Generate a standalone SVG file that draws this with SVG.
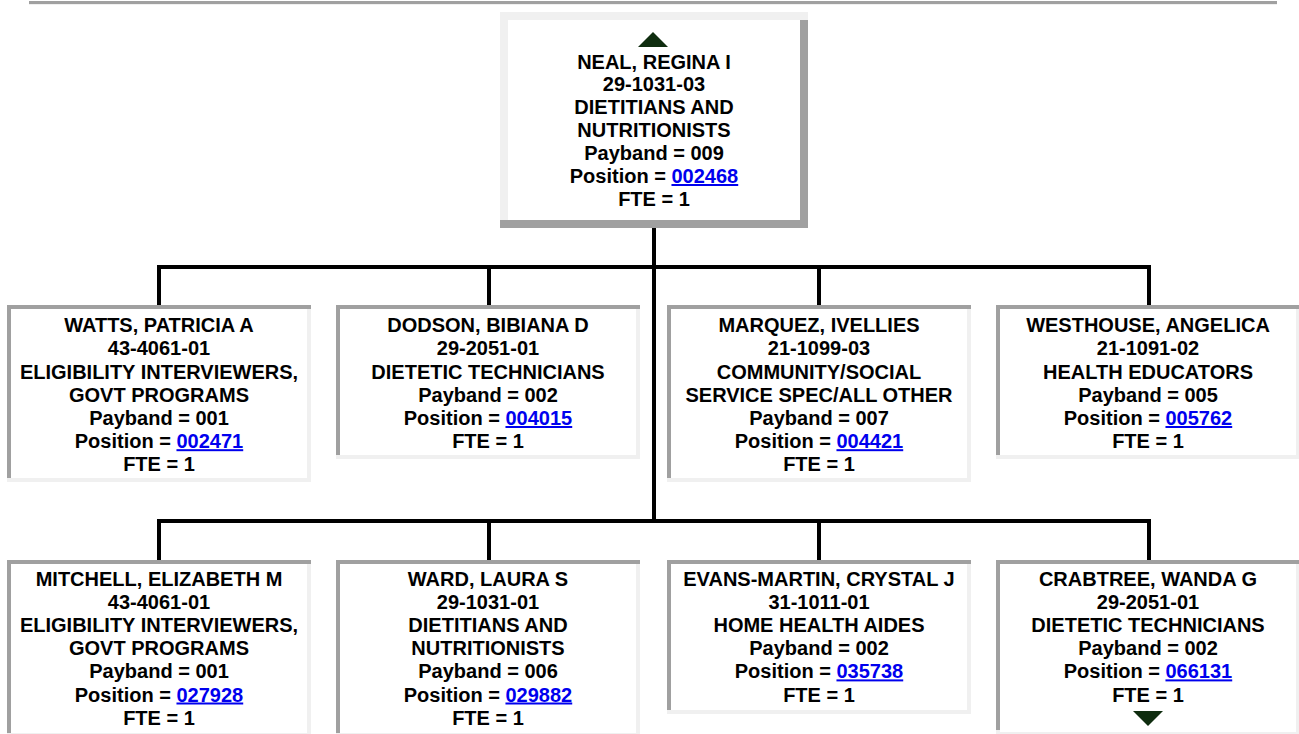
<svg xmlns="http://www.w3.org/2000/svg" width="1299" height="734" viewBox="0 0 1299 734">
<style>
.t{font-family:"Liberation Sans",Arial,sans-serif;font-size:20px;font-weight:bold;fill:#000;text-anchor:middle}
.lnk{fill:#0000ee;text-decoration:underline}
.lt{fill:#f0f0f0}
.dk{fill:#a0a0a0}
.wh{fill:#fff}
.tri{fill:#0f2d0f}
.cn{stroke:#000;stroke-width:4;fill:none}
</style>
<rect x="0" y="0" width="1299" height="734" fill="#fff"/>
<rect x="29" y="1" width="1248" height="3" class="dk"/>
<rect x="29" y="4" width="1248" height="1" class="lt"/>

<g id="connectors">
<path class="cn" d="M654,228 V523"/>
<path class="cn" d="M157,267 H1151"/>
<path class="cn" d="M159,267 V305 M489,267 V305 M819,267 V305 M1149,267 V305"/>
<path class="cn" d="M157,521 H1151"/>
<path class="cn" d="M159,521 V560 M489,521 V560 M819,521 V560 M1149,521 V560"/>
</g>

<g id="node-neal">
<rect x="500" y="12" width="308" height="216" class="lt"/>
<rect x="800" y="20" width="8" height="208" class="dk"/>
<rect x="500" y="220" width="308" height="8" class="dk"/>
<rect x="508" y="20" width="292" height="200" class="wh"/>
<polygon class="tri" points="638,47 653,32 668,47"/>
<text class="t" x="654" y="68.5">NEAL, REGINA I</text>
<text class="t" x="654" y="91.4">29-1031-03</text>
<text class="t" x="654" y="114.3">DIETITIANS AND</text>
<text class="t" x="654" y="137.2">NUTRITIONISTS</text>
<text class="t" x="654" y="160.1">Payband = 009</text>
<text class="t" x="654" y="183">Position = <tspan class="lnk">002468</tspan></text>
<text class="t" x="654" y="205.9">FTE = 1</text>
</g>

<g id="node-watts">
<rect x="7" y="305" width="304" height="177" class="lt"/>
<rect x="7" y="305" width="304" height="4" class="dk"/>
<rect x="7" y="305" width="4" height="173" class="dk"/>
<rect x="11" y="309" width="296" height="169" class="wh"/>
<text class="t" x="159" y="332.2">WATTS, PATRICIA A</text>
<text class="t" x="159" y="355.4">43-4061-01</text>
<text class="t" x="159" y="378.6">ELIGIBILITY INTERVIEWERS,</text>
<text class="t" x="159" y="401.8">GOVT PROGRAMS</text>
<text class="t" x="159" y="425">Payband = 001</text>
<text class="t" x="159" y="448.2">Position = <tspan class="lnk">002471</tspan></text>
<text class="t" x="159" y="471.4">FTE = 1</text>
</g>

<g id="node-dodson">
<rect x="336" y="305" width="304" height="154" class="lt"/>
<rect x="336" y="305" width="304" height="4" class="dk"/>
<rect x="336" y="305" width="4" height="150" class="dk"/>
<rect x="340" y="309" width="296" height="146" class="wh"/>
<text class="t" x="488" y="332.2">DODSON, BIBIANA D</text>
<text class="t" x="488" y="355.4">29-2051-01</text>
<text class="t" x="488" y="378.6">DIETETIC TECHNICIANS</text>
<text class="t" x="488" y="401.8">Payband = 002</text>
<text class="t" x="488" y="425">Position = <tspan class="lnk">004015</tspan></text>
<text class="t" x="488" y="448.2">FTE = 1</text>
</g>

<g id="node-marquez">
<rect x="667" y="305" width="304" height="177" class="lt"/>
<rect x="667" y="305" width="304" height="4" class="dk"/>
<rect x="667" y="305" width="4" height="173" class="dk"/>
<rect x="671" y="309" width="296" height="169" class="wh"/>
<text class="t" x="819" y="332.2">MARQUEZ, IVELLIES</text>
<text class="t" x="819" y="355.4">21-1099-03</text>
<text class="t" x="819" y="378.6">COMMUNITY/SOCIAL</text>
<text class="t" x="819" y="401.8">SERVICE SPEC/ALL OTHER</text>
<text class="t" x="819" y="425">Payband = 007</text>
<text class="t" x="819" y="448.2">Position = <tspan class="lnk">004421</tspan></text>
<text class="t" x="819" y="471.4">FTE = 1</text>
</g>

<g id="node-westhouse">
<rect x="996" y="305" width="303" height="154" class="lt"/>
<rect x="996" y="305" width="303" height="4" class="dk"/>
<rect x="996" y="305" width="4" height="150" class="dk"/>
<rect x="1000" y="309" width="296" height="146" class="wh"/>
<text class="t" x="1148" y="332.2">WESTHOUSE, ANGELICA</text>
<text class="t" x="1148" y="355.4">21-1091-02</text>
<text class="t" x="1148" y="378.6">HEALTH EDUCATORS</text>
<text class="t" x="1148" y="401.8">Payband = 005</text>
<text class="t" x="1148" y="425">Position = <tspan class="lnk">005762</tspan></text>
<text class="t" x="1148" y="448.2">FTE = 1</text>
</g>

<g id="node-mitchell">
<rect x="7" y="560" width="304" height="177" class="lt"/>
<rect x="7" y="560" width="304" height="4" class="dk"/>
<rect x="7" y="560" width="4" height="173" class="dk"/>
<rect x="11" y="564" width="296" height="169" class="wh"/>
<text class="t" x="159" y="586">MITCHELL, ELIZABETH M</text>
<text class="t" x="159" y="609.1">43-4061-01</text>
<text class="t" x="159" y="632.2">ELIGIBILITY INTERVIEWERS,</text>
<text class="t" x="159" y="655.3">GOVT PROGRAMS</text>
<text class="t" x="159" y="678.4">Payband = 001</text>
<text class="t" x="159" y="701.5">Position = <tspan class="lnk">027928</tspan></text>
<text class="t" x="159" y="724.6">FTE = 1</text>
</g>

<g id="node-ward">
<rect x="336" y="560" width="304" height="177" class="lt"/>
<rect x="336" y="560" width="304" height="4" class="dk"/>
<rect x="336" y="560" width="4" height="173" class="dk"/>
<rect x="340" y="564" width="296" height="169" class="wh"/>
<text class="t" x="488" y="586">WARD, LAURA S</text>
<text class="t" x="488" y="609.1">29-1031-01</text>
<text class="t" x="488" y="632.2">DIETITIANS AND</text>
<text class="t" x="488" y="655.3">NUTRITIONISTS</text>
<text class="t" x="488" y="678.4">Payband = 006</text>
<text class="t" x="488" y="701.5">Position = <tspan class="lnk">029882</tspan></text>
<text class="t" x="488" y="724.6">FTE = 1</text>
</g>

<g id="node-evans-martin">
<rect x="667" y="560" width="304" height="154" class="lt"/>
<rect x="667" y="560" width="304" height="4" class="dk"/>
<rect x="667" y="560" width="4" height="150" class="dk"/>
<rect x="671" y="564" width="296" height="146" class="wh"/>
<text class="t" x="819" y="586">EVANS-MARTIN, CRYSTAL J</text>
<text class="t" x="819" y="609.1">31-1011-01</text>
<text class="t" x="819" y="632.2">HOME HEALTH AIDES</text>
<text class="t" x="819" y="655.3">Payband = 002</text>
<text class="t" x="819" y="678.4">Position = <tspan class="lnk">035738</tspan></text>
<text class="t" x="819" y="701.5">FTE = 1</text>
</g>

<g id="node-crabtree">
<rect x="996" y="560" width="303" height="174" class="lt"/>
<rect x="996" y="560" width="303" height="4" class="dk"/>
<rect x="996" y="560" width="4" height="170" class="dk"/>
<rect x="1000" y="564" width="296" height="168" class="wh"/>
<text class="t" x="1148" y="586">CRABTREE, WANDA G</text>
<text class="t" x="1148" y="609.1">29-2051-01</text>
<text class="t" x="1148" y="632.2">DIETETIC TECHNICIANS</text>
<text class="t" x="1148" y="655.3">Payband = 002</text>
<text class="t" x="1148" y="678.4">Position = <tspan class="lnk">066131</tspan></text>
<text class="t" x="1148" y="701.5">FTE = 1</text>
<polygon class="tri" points="1133,711 1163,711 1148,726"/>
</g>
</svg>
